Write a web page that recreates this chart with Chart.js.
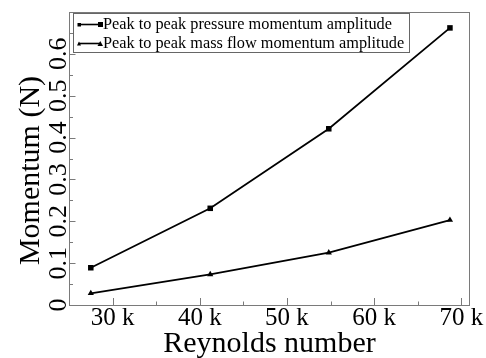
<!DOCTYPE html>
<html>
<head>
<meta charset="utf-8">
<script src="https://cdn.jsdelivr.net/npm/chart.js@4/dist/chart.umd.min.js"></script>
<style>
  html, body { margin: 0; padding: 0; background: #fff; }
  #wrap { width: 486px; height: 358px; }
</style>
</head>
<body>
<div id="wrap"><canvas id="c" width="486" height="358"></canvas></div>
<script>
// Reynolds number of each run and the two momentum amplitudes (N)
const reynolds = [27500, 41200, 54800, 68700];
const pressureAmplitude = [0.089, 0.231, 0.421, 0.662];
const massFlowAmplitude = [0.028, 0.073, 0.125, 0.203];

const seriesLabels = [
  'Peak to peak pressure momentum amplitude',
  'Peak to peak mass flow momentum amplitude'
];

// Axis ticks
const xTickValues = [30000, 40000, 50000, 60000, 70000];
const xTickLabels = ['30 k', '40 k', '50 k', '60 k', '70 k'];
const xMinorValues = [35000, 45000, 55000, 65000];
const yTickValues = [0, 0.1, 0.2, 0.3, 0.4, 0.5, 0.6];
const yTickLabels = ['0', '0.1', '0.2', '0.3', '0.4', '0.5', '0.6'];
const yMinorValues = [0.05, 0.15, 0.25, 0.35, 0.45, 0.55, 0.65];

const xTitle = 'Reynolds number';
const yTitle = 'Momentum (N)';

const SERIF = '"Liberation Serif", "Times New Roman", serif';
const INK = '#000';
const FRAME = '#7a7a7a';

function toPoints(xs, ys) {
  return xs.map((x, i) => ({ x: x, y: ys[i] }));
}

// Frame around the plot area plus inward major/minor tick marks
const frameTicks = {
  id: 'frameTicks',
  beforeDatasetsDraw(chart) {
    const { ctx, chartArea: a, scales: { x, y } } = chart;
    ctx.save();
    ctx.strokeStyle = FRAME;
    ctx.lineWidth = 1;
    ctx.strokeRect(a.left + 0.5, a.top + 0.5, a.right - a.left - 1, a.bottom - a.top);
    ctx.beginPath();
    xTickValues.forEach(v => {
      const px = Math.round(x.getPixelForValue(v)) + 0.5;
      ctx.moveTo(px, a.bottom); ctx.lineTo(px, a.bottom - 7);
    });
    xMinorValues.forEach(v => {
      const px = Math.round(x.getPixelForValue(v)) + 0.5;
      ctx.moveTo(px, a.bottom); ctx.lineTo(px, a.bottom - 3.5);
    });
    yTickValues.forEach(v => {
      const py = Math.round(y.getPixelForValue(v)) + 0.5;
      ctx.moveTo(a.left, py); ctx.lineTo(a.left + 6.5, py);
    });
    yMinorValues.forEach(v => {
      const py = Math.round(y.getPixelForValue(v)) + 0.5;
      ctx.moveTo(a.left, py); ctx.lineTo(a.left + 4, py);
    });
    ctx.stroke();
    ctx.restore();
  },
  afterDraw(chart) {
    const { ctx, chartArea: a, scales: { y } } = chart;
    ctx.save();
    ctx.fillStyle = INK;
    // rotated y tick labels
    ctx.font = '26px ' + SERIF;
    ctx.textAlign = 'center';
    ctx.textBaseline = 'alphabetic';
    yTickValues.forEach((v, i) => {
      const py = y.getPixelForValue(v);
      ctx.save();
      ctx.translate(a.left - 3.5, py);
      ctx.rotate(-Math.PI / 2);
      ctx.fillText(yTickLabels[i], 0, 0);
      ctx.restore();
    });
    // y axis title
    ctx.font = '30px ' + SERIF;
    ctx.save();
    ctx.translate(38.5, (a.top + a.bottom) / 2 + 12);
    ctx.rotate(-Math.PI / 2);
    ctx.fillText(yTitle, 0, 0);
    ctx.restore();

    // legend box in the upper left corner of the plot
    const bx = a.left + 4.5, by = a.top + 1.5, bw = 336, bh = 39;
    ctx.fillStyle = '#fff';
    ctx.fillRect(bx, by, bw, bh);
    ctx.strokeStyle = '#666';
    ctx.lineWidth = 1;
    ctx.strokeRect(bx, by, bw, bh);
    ctx.font = '16.3px ' + SERIF;
    ctx.textAlign = 'left';
    chart.data.datasets.forEach((ds, i) => {
      const cy = by + 11 + i * 19;
      const x0 = bx + 5, x1 = bx + 27;
      ctx.strokeStyle = INK;
      ctx.fillStyle = INK;
      ctx.lineWidth = 1.6;
      ctx.beginPath();
      ctx.moveTo(x0, cy); ctx.lineTo(x1, cy);
      ctx.stroke();
      if (ds.pointStyle === 'rect') {
        ctx.fillRect(x0 - 1, cy - 1.5, 3.5, 3.5);
        ctx.fillRect(x1 - 2.5, cy - 2.5, 5, 5);
      } else {
        ctx.beginPath();
        ctx.moveTo(x0 - 1.5, cy + 2); ctx.lineTo(x0 + 2.5, cy + 2); ctx.lineTo(x0 + 0.5, cy - 2);
        ctx.closePath(); ctx.fill();
        ctx.beginPath();
        ctx.moveTo(x1 - 3, cy + 2.5); ctx.lineTo(x1 + 2.5, cy + 2.5); ctx.lineTo(x1 - 0.25, cy - 2.5);
        ctx.closePath(); ctx.fill();
      }
      ctx.fillText(ds.label, bx + 29.5, cy + 4.5);
    });
    ctx.restore();
  }
};

new Chart(document.getElementById('c'), {
  type: 'line',
  data: {
    datasets: [
      {
        label: seriesLabels[0],
        data: toPoints(reynolds, pressureAmplitude),
        borderColor: INK,
        backgroundColor: INK,
        borderWidth: 1.8,
        pointStyle: 'rect',
        pointRadius: 3.9,
        pointBorderWidth: 0,
        tension: 0
      },
      {
        label: seriesLabels[1],
        data: toPoints(reynolds, massFlowAmplitude),
        borderColor: INK,
        backgroundColor: INK,
        borderWidth: 1.8,
        pointStyle: 'triangle',
        pointRadius: 3.6,
        pointBorderWidth: 0,
        tension: 0
      }
    ]
  },
  options: {
    responsive: false,
    animation: false,
    devicePixelRatio: 1,
    layout: { padding: { top: 12, right: 16, left: 0, bottom: 0 } },
    plugins: {
      legend: { display: false },
      tooltip: { enabled: false }
    },
    scales: {
      x: {
        type: 'linear',
        min: 25000,
        max: 71000,
        grid: { display: false, drawTicks: false },
        border: { display: false },
        afterBuildTicks(scale) {
          scale.ticks = xTickValues.map(v => ({ value: v }));
        },
        afterFit(scale) { scale.height = 53; },
        ticks: {
          color: INK,
          padding: 1,
          maxRotation: 0,
          autoSkip: false,
          font: { family: SERIF, size: 25, lineHeight: 1 },
          callback(value) {
            const i = xTickValues.indexOf(value);
            return i >= 0 ? xTickLabels[i] : '';
          }
        },
        title: {
          display: true,
          text: xTitle,
          color: INK,
          padding: { top: 0, bottom: -4 },
          font: { family: SERIF, size: 30, lineHeight: 1.2 }
        }
      },
      y: {
        type: 'linear',
        min: 0,
        max: 0.7,
        grid: { display: false, drawTicks: false },
        border: { display: false },
        afterBuildTicks(scale) {
          scale.ticks = yTickValues.map(v => ({ value: v }));
        },
        afterFit(scale) { scale.width = 69; },
        ticks: { display: false },
        title: { display: false }
      }
    }
  },
  plugins: [frameTicks]
});
</script>
</body>
</html>
